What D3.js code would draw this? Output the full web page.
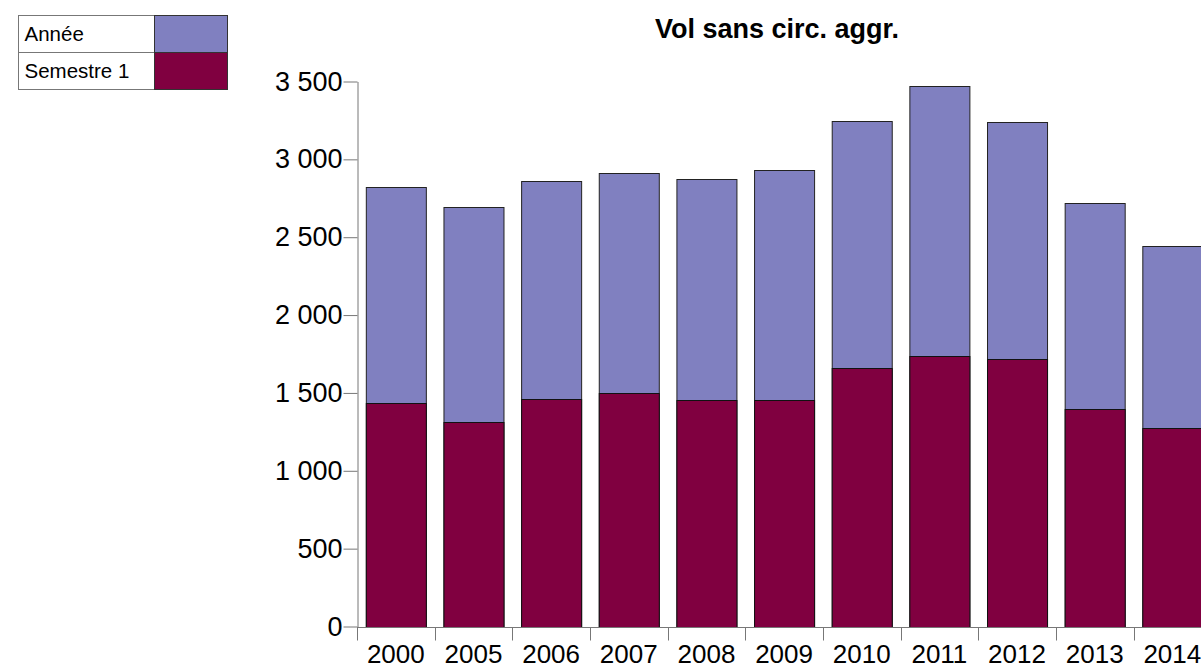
<!DOCTYPE html>
<html>
<head>
<meta charset="utf-8">
<script src="https://cdn.jsdelivr.net/npm/d3@7"></script>
<style>
  body { margin: 0; background: #fff; }
  svg { display: block; font-family: "Liberation Sans", Arial, sans-serif; }
</style>
</head>
<body>
<div class="chart"></div>
<script>
const years = ["2000","2005","2006","2007","2008","2009","2010","2011","2012","2013","2014"];
const annee = [2821, 2692, 2861, 2911, 2874, 2932, 3246, 3469, 3242, 2720, 2444];
const semestre1 = [1434, 1314, 1458, 1497, 1452, 1456, 1657, 1738, 1721, 1394, 1274];
const yTicks = [0, 500, 1000, 1500, 2000, 2500, 3000, 3500];
const seriesNames = ["Année", "Semestre 1"];
const colors = ["#8080c0", "#800040"];

const width = 1201, height = 670;
const svg = d3.select(".chart").append("svg")
    .attr("width", width)
    .attr("height", height)
    .style("overflow", "hidden");

const x0 = 357, step = 77.65;
const x = d3.scaleBand()
    .domain(years)
    .range([x0, x0 + step * years.length])
    .paddingInner(0.227)
    .paddingOuter(0.1135);

const y = d3.scaleLinear()
    .domain([0, 3500])
    .range([626.5, 81.5]);

const fr = d3.formatLocale({decimal: ",", thousands: "\u00a0", grouping: [3], currency: ["", " €"]});
const fmt = fr.format(",d");

// title
svg.append("text")
    .attr("x", 777).attr("y", 38)
    .attr("text-anchor", "middle")
    .style("font-weight", "bold")
    .style("font-size", "27px")
    .text("Vol sans circ. aggr.");

// bars: year total behind, first semester in front
const rows = years.map((yr, i) => ({yr, a: annee[i], s: semestre1[i]}));
const g = svg.append("g");
g.selectAll("rect.a").data(rows).join("rect")
    .attr("class", "a")
    .attr("x", d => x(d.yr) + 0.5)
    .attr("width", x.bandwidth())
    .attr("y", d => Math.round(y(d.a)) + 0.5)
    .attr("height", d => Math.round(y(0)) - Math.round(y(d.a)))
    .attr("fill", colors[0])
    .attr("stroke", "#222");
g.selectAll("rect.s").data(rows).join("rect")
    .attr("class", "s")
    .attr("x", d => x(d.yr) + 0.5)
    .attr("width", x.bandwidth())
    .attr("y", d => Math.round(y(d.s)) + 0.5)
    .attr("height", d => Math.round(y(0)) - Math.round(y(d.s)))
    .attr("fill", colors[1])
    .attr("stroke", "#111");

// y axis
const yAxis = svg.append("g")
    .attr("transform", `translate(${x0 + 0.5},0)`)
    .call(d3.axisLeft(y).tickValues(yTicks).tickFormat(fmt).tickSize(14).tickPadding(1).tickSizeOuter(0));
yAxis.select(".domain").attr("stroke", "#777");
yAxis.selectAll(".tick line").attr("stroke", "#777");
yAxis.selectAll(".tick text")
    .style("font-size", "27px")
    .attr("fill", "#000")
    .attr("font-family", null);

// x axis: labels at band centres, ticks at band boundaries
const base = Math.round(y(0)) + 0.5;
const xAxis = svg.append("g")
    .attr("transform", `translate(0,${base})`)
    .call(d3.axisBottom(x).tickSize(0).tickPadding(17).tickSizeOuter(0));
xAxis.select(".domain").attr("stroke", "#777").attr("d", `M${x0},0H${width}`);
xAxis.selectAll(".tick text")
    .style("font-size", "26px")
    .attr("fill", "#000")
    .attr("font-family", null);
svg.append("g").selectAll("line").data(years).join("line")
    .attr("x1", d => Math.round(x(d) - x.step() * x.paddingInner() / 2) + 0.5)
    .attr("x2", d => Math.round(x(d) - x.step() * x.paddingInner() / 2) + 0.5)
    .attr("y1", base)
    .attr("y2", base + 13)
    .attr("stroke", "#777");

// legend table
const lg = svg.append("g").attr("transform", "translate(18.5,15.5)");
const rowH = 37, textW = 136, swW = 73;
seriesNames.forEach((name, i) => {
    lg.append("rect")
        .attr("x", 0).attr("y", i * rowH)
        .attr("width", textW).attr("height", rowH)
        .attr("fill", "#fff").attr("stroke", "#777");
    lg.append("rect")
        .attr("x", textW).attr("y", i * rowH)
        .attr("width", swW).attr("height", rowH)
        .attr("fill", colors[i]).attr("stroke", "#333");
    lg.append("text")
        .attr("x", 6).attr("y", i * rowH + 25)
        .style("font-size", "20.5px")
        .text(name);
});
</script>
</body>
</html>
